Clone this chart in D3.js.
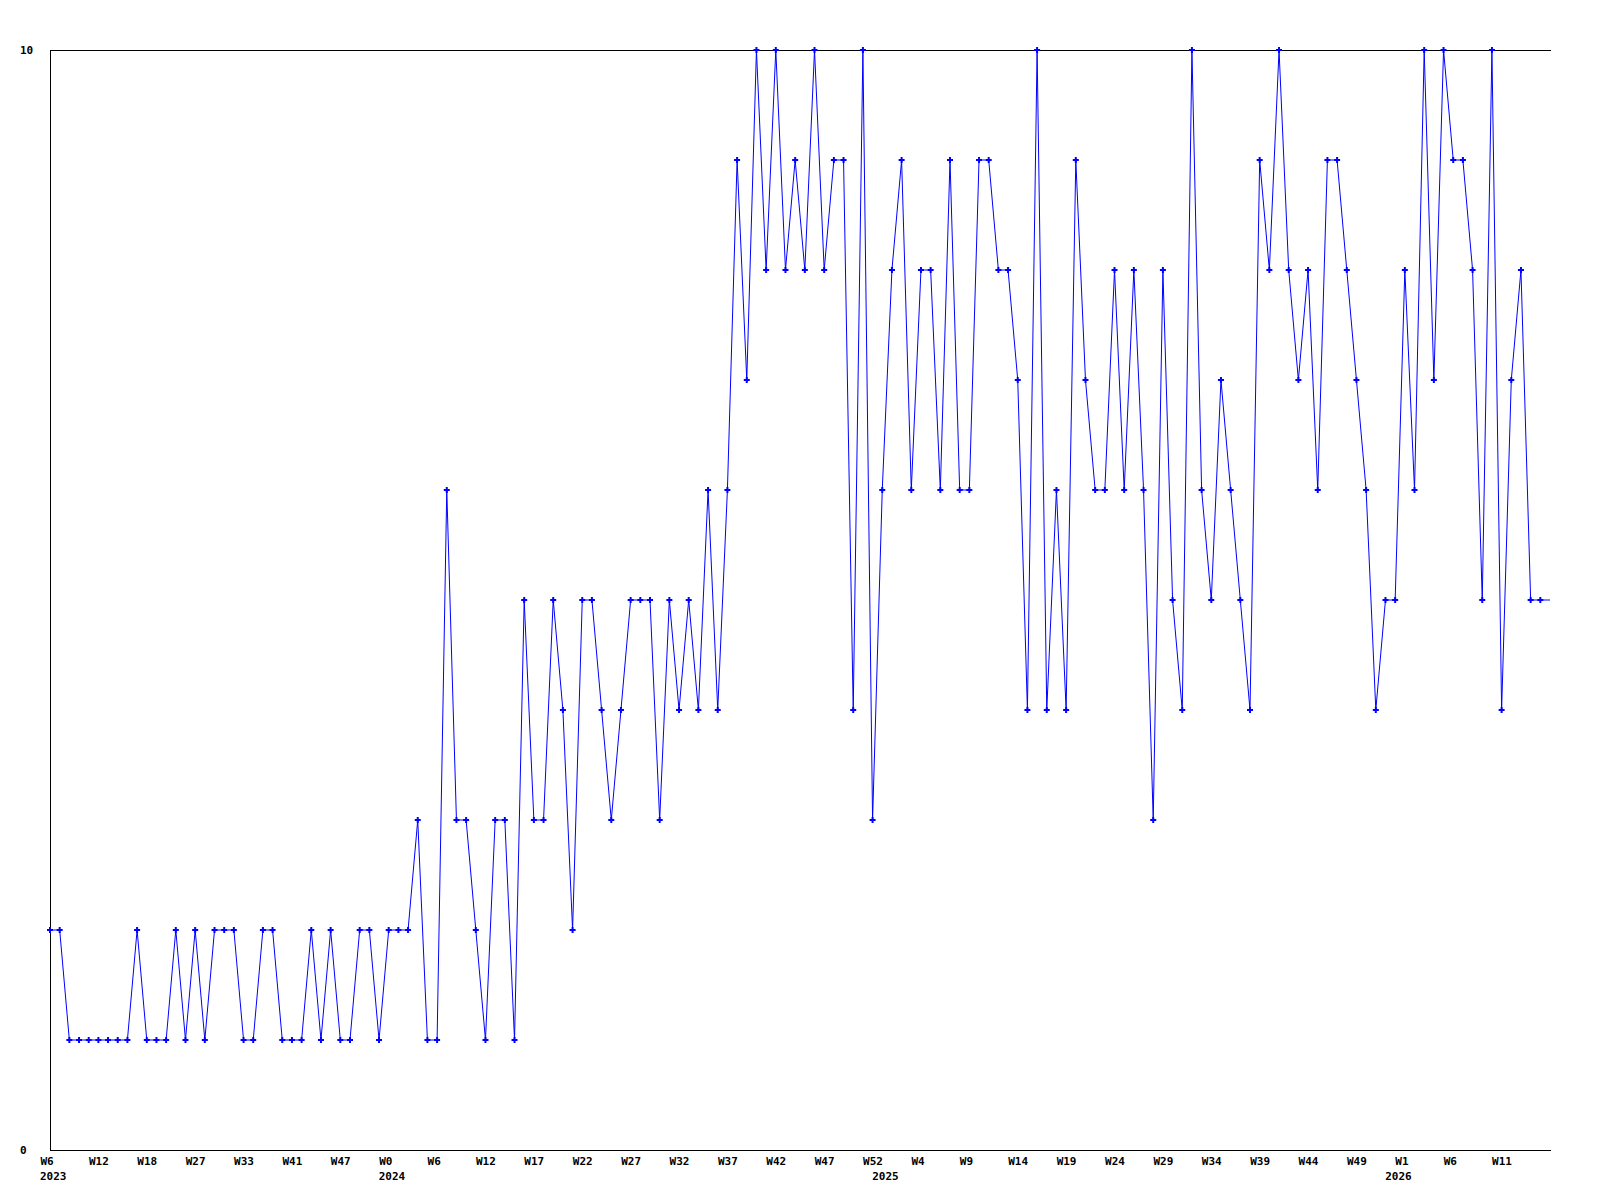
<!DOCTYPE html>
<html>
<head>
<meta charset="utf-8">
<script src="https://cdn.jsdelivr.net/npm/d3@7"></script>
<style>
  body { margin: 0; background: #fff; }
  text { font-family: "DejaVu Sans Mono", monospace; font-weight: bold; font-size: 11px; fill: #000; }
</style>
</head>
<body>
<div id="chart"></div>
<script>
// weekly counts, one per point (2023 W6 .. 2026)
const counts = [
  2,2,1,1,1,1,1,1,1,2, 1,1,1,2,1,2,1,2,2,2, 1,1,2,2,1,1,1,2,1,2, 1,1,2,2,1,2,2,2,3,1,
  1,6,3,3,2,1,3,3,1,5, 3,3,5,4,2,5,5,4,3,4, 5,5,5,3,5,4,5,4,6,4,
  6,9,7,10,8,10,8,9,8,10, 8,9,9,4,10,3,6,8,9,6, 8,8,6,9,6,6,9,9,8,8,
  7,4,10,4,6,4,9,7,6,6, 8,6,8,6,3,8,5,4,10,6, 5,7,6,5,4,9,8,10,8,7,
  8,6,9,9,8,7,6,4,5,5, 8,6,10,7,10,9,9,8,5,10, 4,7,8,5,5,5
];

// week labels, one every 5 points
const weekLabels = ["W6","W12","W18","W27","W33","W41","W47","W0","W6","W12","W17",
  "W22","W27","W32","W37","W42","W47","W52","W4","W9","W14","W19","W24","W29",
  "W34","W39","W44","W49","W1","W6","W11"];
const labelStep = 5;

// first point of each year
const yearStarts = [0, 35, 86, 139];
const yearNames = ["2023", "2024", "2025", "2026"];

const yTicks = [0, 10];

const width = 1600, height = 1200;
const margin = {top: 50, right: 50, bottom: 50, left: 50};
const lineCol = "#0000ff";

const svg = d3.select("#chart").append("svg")
  .attr("width", width)
  .attr("height", height);

const x = d3.scaleLinear().domain([0, counts.length - 1]).range([margin.left, width - margin.right]);
const y = d3.scaleLinear().domain([0, 10]).range([height - margin.bottom, margin.top]);

// x axis with week labels
const xAxis = d3.axisBottom(x)
  .tickValues(weekLabels.map((d, i) => i * labelStep))
  .tickFormat((d, i) => weekLabels[i])
  .tickSize(0)
  .tickPadding(0);

const gx = svg.append("g")
  .attr("transform", "translate(0," + y(0) + ")")
  .call(xAxis);
gx.select(".domain").attr("stroke", "#000").attr("shape-rendering", "crispEdges");
gx.selectAll(".tick text")
  .attr("text-anchor", "start")
  .attr("x", -10)
  .attr("y", 15)
  .attr("dy", 0);

// year labels
svg.append("g").selectAll("text")
  .data(yearStarts)
  .join("text")
    .attr("x", d => x(d) - 10)
    .attr("y", y(0) + 30)
    .text((d, i) => yearNames[i]);

// y axis, only 0 and 10
const yAxis = d3.axisLeft(y).tickValues(yTicks).tickSize(0).tickPadding(0);
const gy = svg.append("g")
  .attr("transform", "translate(" + margin.left + ",0)")
  .call(yAxis);
gy.select(".domain").attr("stroke", "#000").attr("shape-rendering", "crispEdges");
gy.selectAll(".tick text")
  .attr("text-anchor", "start")
  .attr("x", 20 - margin.left)
  .attr("dy", "0.32em");

// top border
svg.append("line")
  .attr("x1", x(0)).attr("x2", x(counts.length - 1) + 1)
  .attr("y1", y(10)).attr("y2", y(10))
  .attr("stroke", "#000")
  .attr("shape-rendering", "crispEdges");

// line
svg.append("path")
  .datum(counts)
  .attr("fill", "none")
  .attr("stroke", lineCol)
  .attr("stroke-width", 1)
  .attr("d", d3.line()
    .x((d, i) => x(i))
    .y(d => y(d)));

// markers (current week has none)
svg.append("g").selectAll("path")
  .data(counts.slice(0, -1))
  .join("path")
    .attr("transform", (d, i) => "translate(" + x(i) + "," + y(d) + ")")
    .attr("d", d3.symbol(d3.symbolCross, 20))
    .attr("fill", lineCol);
</script>
</body>
</html>
